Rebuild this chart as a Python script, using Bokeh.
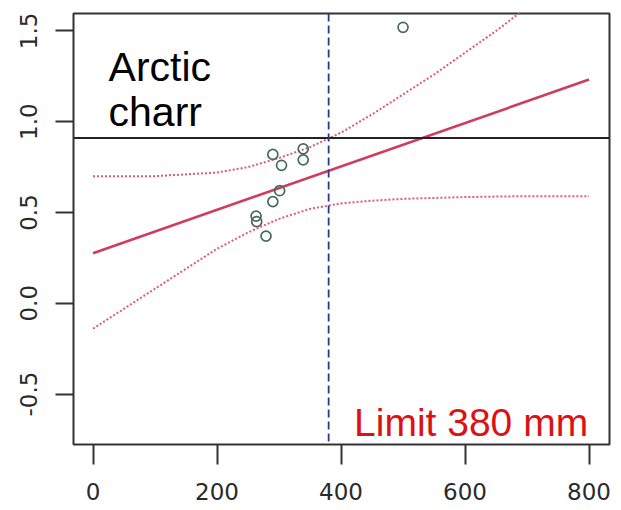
from bokeh.plotting import figure
from bokeh.models import Span, FixedTicker, Range1d
from bokeh.core.properties import value
from bokeh.embed import file_html
from bokeh.resources import INLINE

# data
pts_x = [290, 304, 339, 339, 301, 290, 263, 264, 279, 500]
pts_y = [0.82, 0.76, 0.85, 0.79, 0.62, 0.56, 0.48, 0.45, 0.37, 1.52]

fit_x = [0, 800]
fit_y = [0.275, 1.232]

upper_x = [0, 100, 200, 250, 300, 350, 400, 450, 500, 550, 600, 650, 700]
upper_y = [0.70, 0.70, 0.72, 0.75, 0.80, 0.86, 0.94, 1.04, 1.15, 1.26, 1.38, 1.50, 1.63]

lower_x = [0, 100, 200, 250, 300, 350, 400, 450, 500, 600, 700, 800]
lower_y = [-0.14, 0.08, 0.30, 0.39, 0.465, 0.52, 0.55, 0.565, 0.575, 0.585, 0.59, 0.59]

ref_level = 0.91
limit_x = 380

x_ticks = [0, 200, 400, 600, 800]
y_ticks = [-0.5, 0.0, 0.5, 1.0, 1.5]
y_tick_labels = {-0.5: "-0.5", 0.0: "0.0", 0.5: "0.5", 1.0: "1.0", 1.5: "1.5"}

title_lines = ["Arctic", "charr"]
limit_text = "Limit 380 mm"

p = figure(frame_width=536, frame_height=431,
           x_range=Range1d(-31.5, 833), y_range=Range1d(-0.778, 1.596),
           output_backend="svg", toolbar_location=None,
           min_border_left=73, min_border_right=12,
           min_border_top=13, min_border_bottom=66)
p.background_fill_color = "white"
p.border_fill_color = "white"
p.grid.visible = False
p.outline_line_color = "#333333"
p.outline_line_width = 2

for ax in (p.xaxis[0], p.yaxis[0]):
    ax.axis_line_color = None
    ax.major_tick_line_color = "#333333"
    ax.major_tick_line_width = 2
    ax.major_tick_in = 0
    ax.minor_tick_line_color = None
    ax.major_label_text_font = "DejaVu Sans"
    ax.major_label_text_font_size = "23px"
    ax.major_label_text_color = "#2a2a2a"

p.xaxis[0].ticker = FixedTicker(ticks=x_ticks)
p.xaxis[0].major_tick_out = 20
p.xaxis[0].major_label_standoff = 18
p.yaxis[0].ticker = FixedTicker(ticks=y_ticks)
p.yaxis[0].major_label_overrides = y_tick_labels
p.yaxis[0].major_tick_out = 18
p.yaxis[0].major_label_orientation = "vertical"
p.yaxis[0].major_label_standoff = 18

# confidence bands and fit
p.line(upper_x, upper_y, line_color="#dd5a74", line_width=2, line_dash="2 2")
p.line(lower_x, lower_y, line_color="#dd5a74", line_width=2, line_dash="2 2")
p.line(fit_x, fit_y, line_color="#d03c5c", line_width=2.6)

# reference lines
p.add_layout(Span(location=ref_level, dimension="width", line_color="#222222", line_width=2))
p.add_layout(Span(location=limit_x, dimension="height", line_color="#2a3a8a",
                  line_width=1.8, line_dash="8 4"))

# points
p.scatter(pts_x, pts_y, marker="circle", size=10, fill_color=None,
          line_color="#456b5c", line_width=1.7)

# texts
p.text(x=[25], y=[1.304], text=[title_lines[0]], text_font=value("Liberation Sans"),
       text_font_size="41px", text_color="black", text_baseline="alphabetic")
p.text(x=[25], y=[1.051], text=[title_lines[1]], text_font=value("Liberation Sans"),
       text_font_size="41px", text_color="black", text_baseline="alphabetic")
p.text(x=[421], y=[-0.657], text=[limit_text], text_font=value("Liberation Sans"),
       text_font_size="39px", text_color="#dd1111", text_baseline="alphabetic")

open("out.html", "w").write(file_html(p, INLINE))
